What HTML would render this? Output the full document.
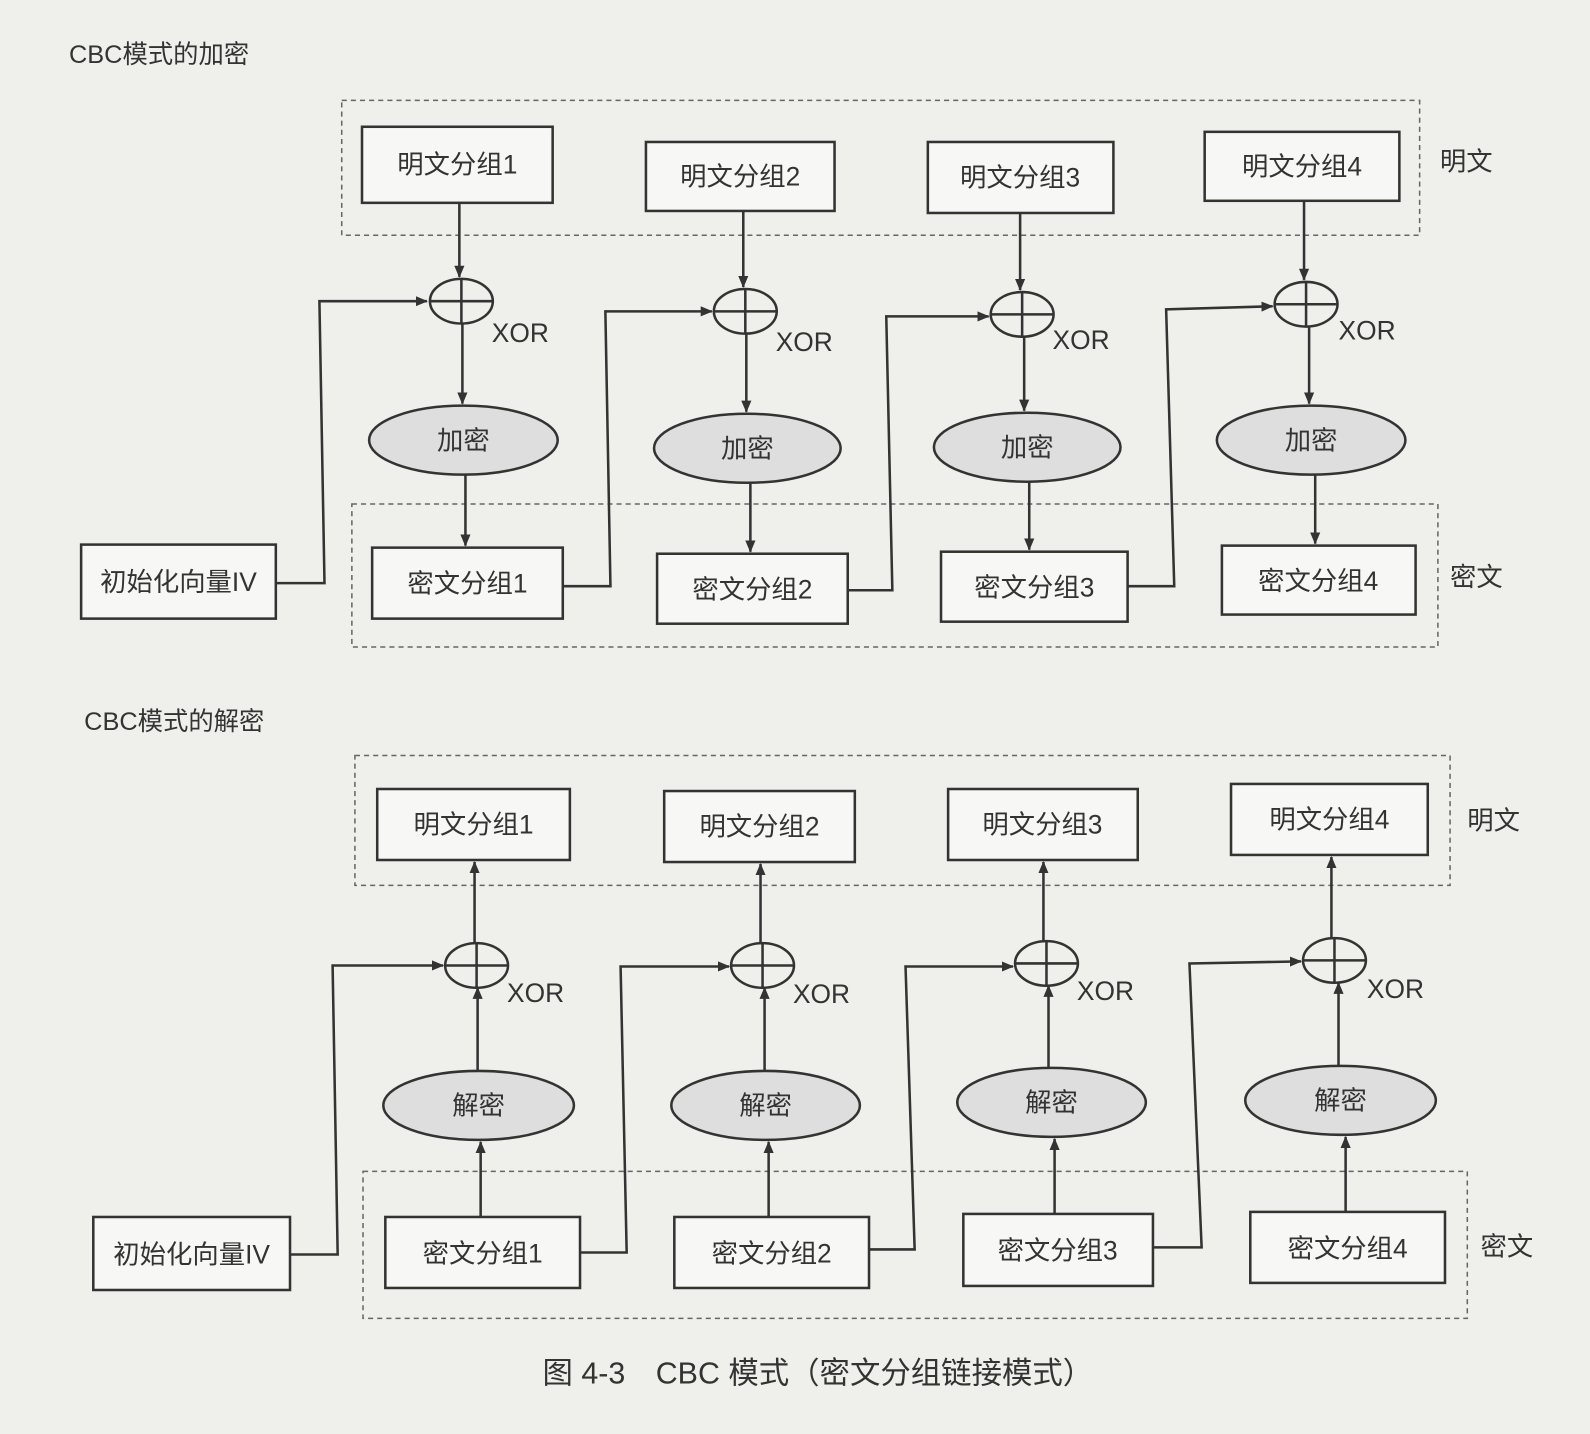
<!DOCTYPE html>
<html><head><meta charset="utf-8"><style>
html,body{margin:0;padding:0;background:#efefec;}
svg{display:block;}
text{font-family:"Liberation Sans","Noto Sans CJK SC",sans-serif;fill:#333;}
</style></head><body>
<svg width="1590" height="1434" viewBox="0 0 1568 1414" preserveAspectRatio="none" xmlns="http://www.w3.org/2000/svg">
<defs>
<marker id="a" markerWidth="12" markerHeight="12" refX="11" refY="6" orient="auto" markerUnits="userSpaceOnUse">
<path d="M0,1 L12,6 L0,11 Z" fill="#333"/></marker>
</defs>
<rect width="1568" height="1414" fill="#efefec"/>
<g stroke="#333" stroke-width="2.5" fill="none">
<rect x="337" y="99" width="1063" height="133" stroke-dasharray="5,4" stroke-width="1.5" stroke="#666"/>
<rect x="347" y="497" width="1071" height="141" stroke-dasharray="5,4" stroke-width="1.5" stroke="#666"/>
<rect x="357" y="125" width="188" height="75" fill="#f7f7f5"/>
<rect x="637" y="140" width="186" height="68" fill="#f7f7f5"/>
<rect x="915" y="140" width="183" height="70" fill="#f7f7f5"/>
<rect x="1188" y="130" width="192" height="68" fill="#f7f7f5"/>
<rect x="80" y="537" width="192" height="73" fill="#f7f7f5"/>
<rect x="367" y="540" width="188" height="70" fill="#f7f7f5"/>
<rect x="648" y="546" width="188" height="69" fill="#f7f7f5"/>
<rect x="928" y="544" width="184" height="69" fill="#f7f7f5"/>
<rect x="1205" y="538" width="191" height="68" fill="#f7f7f5"/>
<ellipse cx="457" cy="434" rx="93" ry="34" fill="#dedede"/>
<ellipse cx="737" cy="442" rx="92" ry="34" fill="#dedede"/>
<ellipse cx="1013" cy="441" rx="92" ry="34" fill="#dedede"/>
<ellipse cx="1293" cy="434" rx="93" ry="34" fill="#dedede"/>
<ellipse cx="455" cy="297" rx="31" ry="22"/><path d="M424,297H486M455,275V319"/>
<ellipse cx="735" cy="307" rx="31" ry="22"/><path d="M704,307H766M735,285V329"/>
<ellipse cx="1008" cy="310" rx="31" ry="22"/><path d="M977,310H1039M1008,288V332"/>
<ellipse cx="1288" cy="300" rx="31" ry="22"/><path d="M1257,300H1319M1288,278V322"/>
<path d="M453,200V273" marker-end="url(#a)"/><path d="M456,319V398" marker-end="url(#a)"/><path d="M459,468V538" marker-end="url(#a)"/>
<path d="M733,208V283" marker-end="url(#a)"/><path d="M736,329V406" marker-end="url(#a)"/><path d="M740,476V544" marker-end="url(#a)"/>
<path d="M1006,210V286" marker-end="url(#a)"/><path d="M1010,332V405" marker-end="url(#a)"/><path d="M1015,475V542" marker-end="url(#a)"/>
<path d="M1286,198V276" marker-end="url(#a)"/><path d="M1291,322V398" marker-end="url(#a)"/><path d="M1297,468V536" marker-end="url(#a)"/>
<path d="M272,575H320L315,297H421" marker-end="url(#a)"/>
<path d="M555,578H602L597,307H702" marker-end="url(#a)"/>
<path d="M836,582H880L874,312H975" marker-end="url(#a)"/>
<path d="M1112,578H1158L1150,305L1255,302" marker-end="url(#a)"/>
<rect x="350" y="745" width="1080" height="128" stroke-dasharray="5,4" stroke-width="1.5" stroke="#666"/>
<rect x="358" y="1155" width="1089" height="145" stroke-dasharray="5,4" stroke-width="1.5" stroke="#666"/>
<rect x="372" y="778" width="190" height="70" fill="#f7f7f5"/>
<rect x="655" y="780" width="188" height="70" fill="#f7f7f5"/>
<rect x="935" y="778" width="187" height="70" fill="#f7f7f5"/>
<rect x="1214" y="773" width="194" height="70" fill="#f7f7f5"/>
<rect x="92" y="1200" width="194" height="72" fill="#f7f7f5"/>
<rect x="380" y="1200" width="192" height="70" fill="#f7f7f5"/>
<rect x="665" y="1200" width="192" height="70" fill="#f7f7f5"/>
<rect x="950" y="1197" width="187" height="71" fill="#f7f7f5"/>
<rect x="1233" y="1195" width="192" height="70" fill="#f7f7f5"/>
<ellipse cx="472" cy="1090" rx="94" ry="34" fill="#dedede"/>
<ellipse cx="755" cy="1090" rx="93" ry="34" fill="#dedede"/>
<ellipse cx="1037" cy="1087" rx="93" ry="34" fill="#dedede"/>
<ellipse cx="1322" cy="1085" rx="94" ry="34" fill="#dedede"/>
<ellipse cx="470" cy="952" rx="31" ry="22"/><path d="M439,952H501M470,930V974"/>
<ellipse cx="752" cy="952" rx="31" ry="22"/><path d="M721,952H783M752,930V974"/>
<ellipse cx="1032" cy="950" rx="31" ry="22"/><path d="M1001,950H1063M1032,928V972"/>
<ellipse cx="1316" cy="947" rx="31" ry="22"/><path d="M1285,947H1347M1316,925V969"/>
<path d="M474,1200V1126" marker-end="url(#a)"/><path d="M471,1056V974" marker-end="url(#a)"/><path d="M468,930V850" marker-end="url(#a)"/>
<path d="M758,1200V1126" marker-end="url(#a)"/><path d="M754,1056V974" marker-end="url(#a)"/><path d="M750,930V852" marker-end="url(#a)"/>
<path d="M1040,1197V1123" marker-end="url(#a)"/><path d="M1034,1053V972" marker-end="url(#a)"/><path d="M1029,928V850" marker-end="url(#a)"/>
<path d="M1327,1195V1121" marker-end="url(#a)"/><path d="M1320,1051V969" marker-end="url(#a)"/><path d="M1313,925V845" marker-end="url(#a)"/>
<path d="M286,1237H333L328,952H437" marker-end="url(#a)"/>
<path d="M572,1235H618L612,953H719" marker-end="url(#a)"/>
<path d="M857,1232H902L893,953H999" marker-end="url(#a)"/>
<path d="M1137,1230H1185L1173,950L1283,948" marker-end="url(#a)"/>
</g>
<g font-size="26">
<text x="68" y="62" font-size="25">CBC模式的加密</text>
<text x="83" y="720" font-size="25">CBC模式的解密</text>
<g text-anchor="middle">
<text x="451" y="171">明文分组1</text><text x="730" y="183">明文分组2</text><text x="1006" y="184">明文分组3</text><text x="1284" y="173">明文分组4</text>
<text x="176" y="583">初始化向量IV</text>
<text x="461" y="584">密文分组1</text><text x="742" y="590">密文分组2</text><text x="1020" y="588">密文分组3</text><text x="1300" y="582">密文分组4</text>
<text x="457" y="443">加密</text><text x="737" y="451">加密</text><text x="1013" y="450">加密</text><text x="1293" y="443">加密</text>
<text x="467" y="822">明文分组1</text><text x="749" y="824">明文分组2</text><text x="1028" y="822">明文分组3</text><text x="1311" y="817">明文分组4</text>
<text x="189" y="1246">初始化向量IV</text>
<text x="476" y="1245">密文分组1</text><text x="761" y="1245">密文分组2</text><text x="1043" y="1242">密文分组3</text><text x="1329" y="1240">密文分组4</text>
<text x="472" y="1099">解密</text><text x="755" y="1099">解密</text><text x="1037" y="1096">解密</text><text x="1322" y="1094">解密</text>
</g>
<text x="485" y="337">XOR</text><text x="765" y="346">XOR</text><text x="1038" y="344">XOR</text><text x="1320" y="335">XOR</text>
<text x="500" y="988">XOR</text><text x="782" y="989">XOR</text><text x="1062" y="986">XOR</text><text x="1348" y="984">XOR</text>
<text x="1420" y="168">明文</text><text x="1430" y="578">密文</text>
<text x="1447" y="818">明文</text><text x="1460" y="1238">密文</text>
<text x="535" y="1364" font-size="30">图 4-3　CBC 模式（密文分组链接模式）</text>
</g>
</svg>
</body></html>
